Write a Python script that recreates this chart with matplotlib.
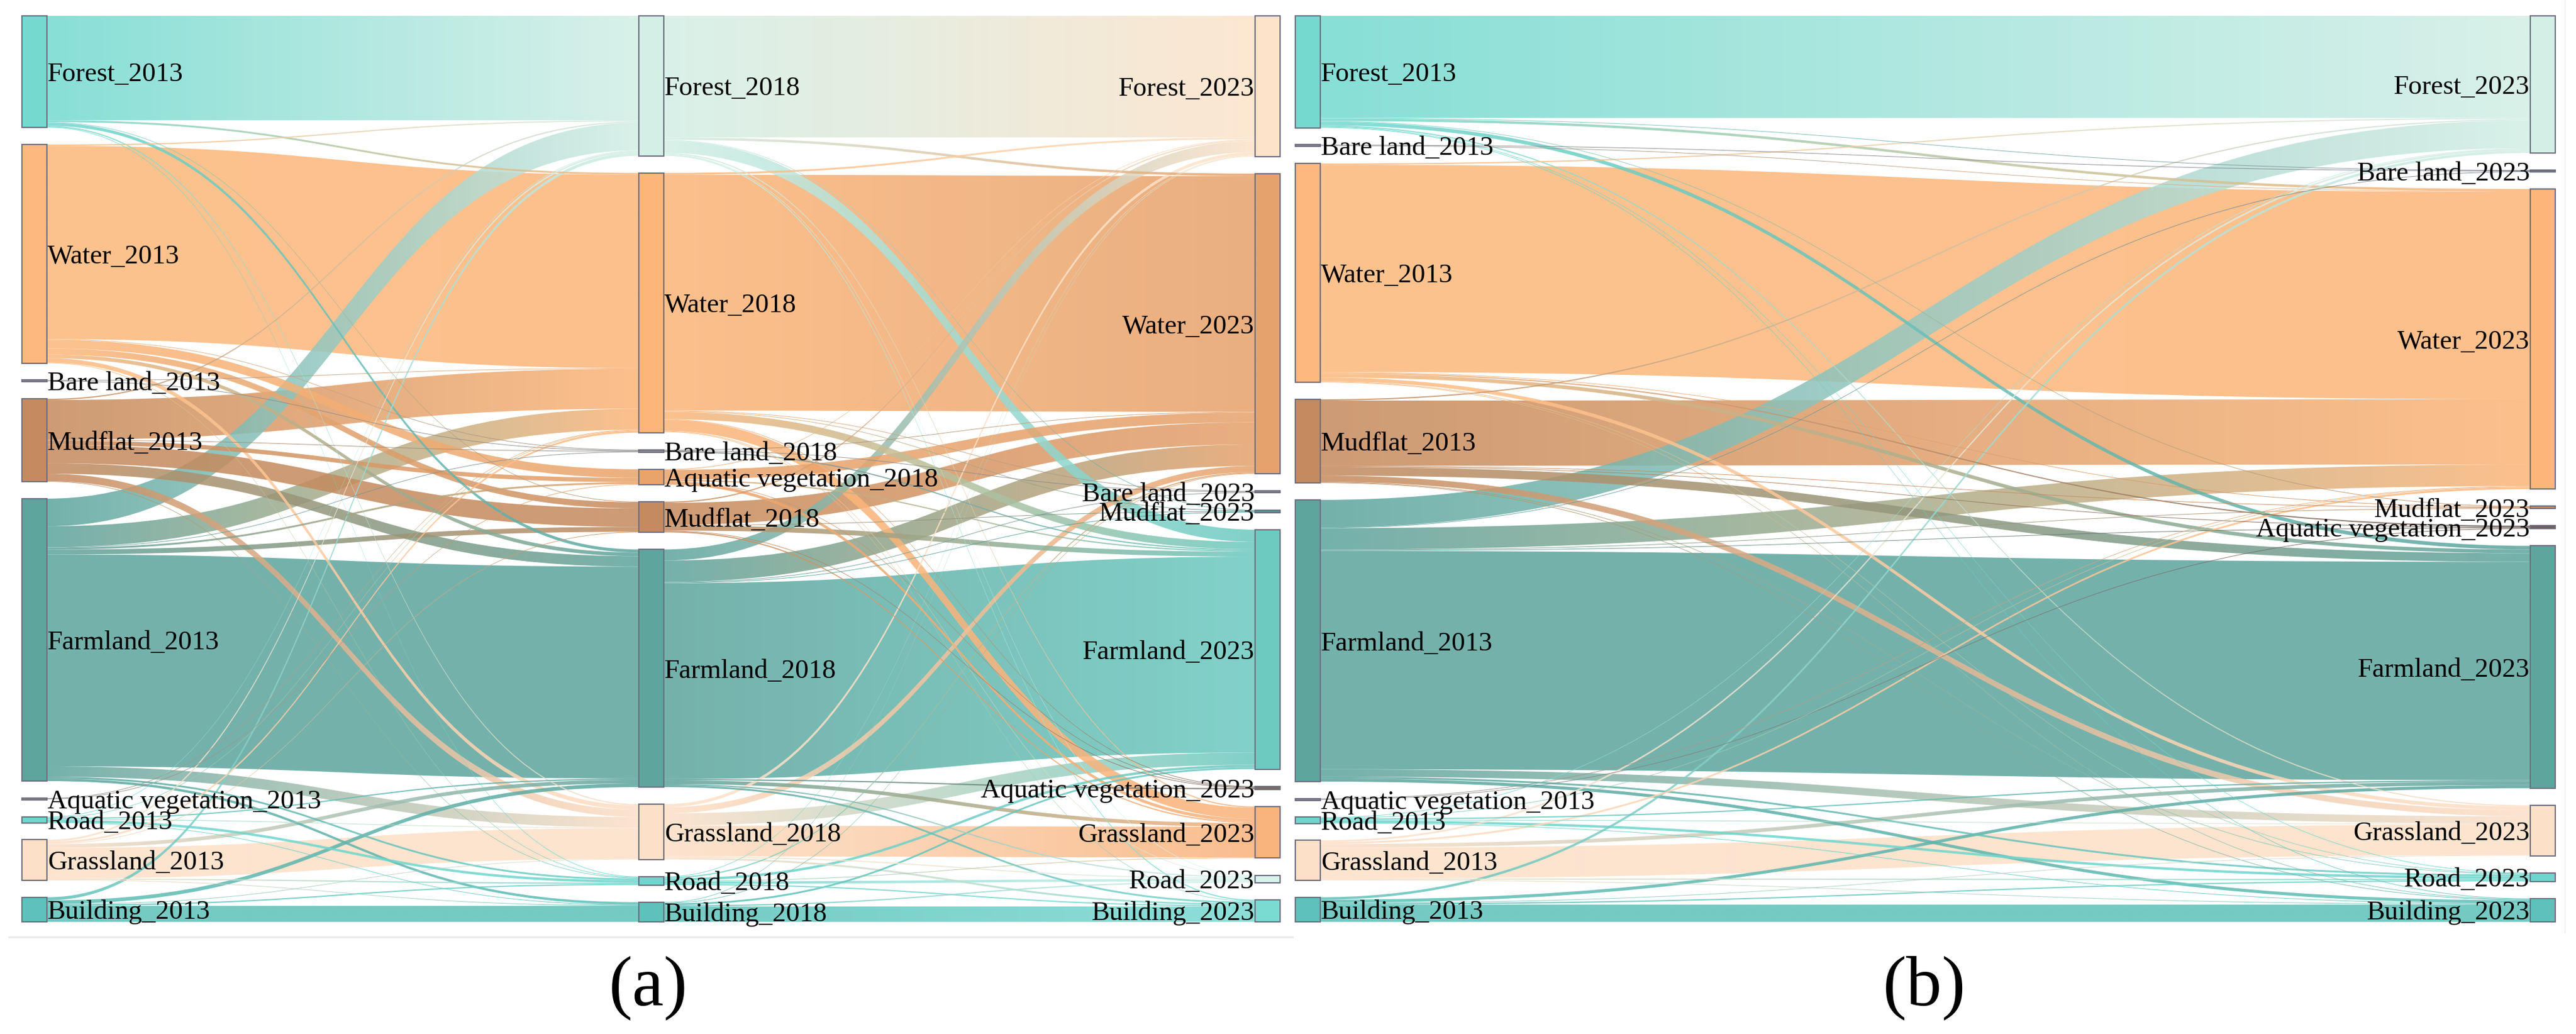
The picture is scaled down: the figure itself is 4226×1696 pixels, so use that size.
import matplotlib
matplotlib.use('Agg')
import matplotlib.pyplot as plt
import numpy as np
from matplotlib.path import Path
from matplotlib.patches import PathPatch, Rectangle
from matplotlib.colors import to_rgb

plt.rcParams['font.family'] = ['Liberation Serif', 'DejaVu Serif']

W_PX, H_PX = 4226, 1696

# land-use classes (row / column order of every flow matrix)
classes = ['Forest', 'Water', 'Bare land', 'Mudflat', 'Farmland',
           'Aquatic vegetation', 'Road', 'Grassland', 'Building']

# node order (top -> bottom) of each column
order_2013_a = ['Forest', 'Water', 'Bare land', 'Mudflat', 'Farmland',
                'Aquatic vegetation', 'Road', 'Grassland', 'Building']
order_2018 = ['Forest', 'Water', 'Bare land', 'Aquatic vegetation', 'Mudflat',
              'Farmland', 'Grassland', 'Road', 'Building']
order_2023_a = ['Forest', 'Water', 'Bare land', 'Mudflat', 'Farmland',
                'Aquatic vegetation', 'Grassland', 'Road', 'Building']
order_2013_b = ['Forest', 'Bare land', 'Water', 'Mudflat', 'Farmland',
                'Aquatic vegetation', 'Road', 'Grassland', 'Building']
order_2023_b = ['Forest', 'Bare land', 'Water', 'Mudflat', 'Aquatic vegetation',
                'Farmland', 'Grassland', 'Road', 'Building']

# transfer areas (rows: from, cols: to), order as in `classes`
flows_2013_2018 = [
    [170, 3, 0, 1, 5, 0, 1, 2, 0],
    [2, 315, 1, 10, 6, 14, 1, 7, 0],
    [0, 1, 1, 0, 0, 0, 0, 0, 0],
    [2, 65, 1, 30, 17, 7, 1, 12, 0],
    [45, 34, 1, 8, 345, 3, 3, 17, 4],
    [0, 1, 0, 0, 0, 1, 0, 0, 0],
    [1, 1, 0, 0, 2, 0, 4, 1, 1],
    [3, 3, 0, 1, 6, 0, 2, 50, 1],
    [5, 0, 0, 0, 6, 0, 2, 1, 26],
]
flows_2018_2023 = [
    [198, 4, 0, 1, 20, 0, 1, 2, 2],
    [3, 384, 1, 1, 12, 1, 1, 18, 1],
    [0, 1, 1, 0, 2, 0, 0, 0, 0],
    [2, 36, 0, 1, 8, 1, 0, 2, 0],
    [18, 35, 1, 1, 319, 2, 2, 6, 3],
    [1, 16, 0, 0, 2, 1, 0, 5, 0],
    [1, 2, 0, 0, 4, 0, 4, 1, 2],
    [5, 10, 0, 0, 20, 0, 2, 50, 3],
    [1, 1, 0, 0, 3, 0, 2, 0, 25],
]
flows_2013_2023 = [
    [166, 4, 1, 1, 6, 0, 1, 2, 1],
    [2, 337, 0, 1, 6, 2, 1, 6, 1],
    [0, 1, 1, 0, 0, 0, 0, 0, 0],
    [2, 106, 0, 1, 14, 1, 1, 10, 1],
    [45, 35, 1, 1, 355, 1, 3, 12, 5],
    [0, 1, 0, 0, 0, 1, 0, 0, 0],
    [1, 1, 0, 0, 2, 0, 4, 1, 1],
    [3, 3, 0, 0, 6, 0, 2, 50, 1],
    [4, 0, 0, 0, 5, 0, 2, 1, 28],
]

# node colours
colors_2013 = {'Forest': '#74dad0', 'Water': '#fdb97d', 'Bare land': '#8a8a8a',
               'Mudflat': '#c58b5e', 'Farmland': '#5ea59e', 'Aquatic vegetation': '#8a8a8a',
               'Road': '#6fd6cd', 'Grassland': '#fde0c8', 'Building': '#5ec2ba'}
colors_2018 = {'Forest': '#d3efe6', 'Water': '#fcb67a', 'Bare land': '#8a8a8a',
               'Aquatic vegetation': '#e9a46c', 'Mudflat': '#c58b5e', 'Farmland': '#5ea59e',
               'Grassland': '#fde0c8', 'Road': '#6fd6cd', 'Building': '#5ec2ba'}
colors_2023_a = {'Forest': '#fde3ca', 'Water': '#e6a26c', 'Bare land': '#8a8a8a',
                 'Mudflat': '#4e9a94', 'Farmland': '#6dcac1', 'Aquatic vegetation': '#7a6a60',
                 'Grassland': '#f9b37c', 'Road': '#d8f3ec', 'Building': '#7adbd3'}
colors_2023_b = {'Forest': '#d3efe6', 'Bare land': '#7a8090', 'Water': '#fcb67a',
                 'Mudflat': '#c58b5e', 'Aquatic vegetation': '#6e5e58', 'Farmland': '#5ea59e',
                 'Grassland': '#fde0c8', 'Road': '#6fd6cd', 'Building': '#5ec2ba'}

TOP, BOTTOM = 26, 1512
NODE_W = 41
LINK_ALPHA = 0.86


def draw_sankey(ax, columns, flows):
    ncol = len(columns)
    idx = {c: i for i, c in enumerate(classes)}
    # node values = max(in, out)
    vals = []
    for c in range(ncol):
        v = {}
        for name in classes:
            i = idx[name]
            vin = sum(flows[c - 1][k][i] for k in range(len(classes))) if c > 0 else 0
            vout = sum(flows[c][i]) if c < ncol - 1 else 0
            v[name] = max(vin, vout)
        vals.append(v)

    span = BOTTOM - TOP
    ky = min((span - 8 * 28) / sum(v.values()) for v in vals)

    # vertical layout
    pos = []
    for c, col in enumerate(columns):
        hs = [max(ky * vals[c][n], 3) for n in col['order']]
        gap = (span - sum(hs)) / (len(hs) - 1)
        y = TOP
        p = {}
        for n, h in zip(col['order'], hs):
            p[n] = [y, h]
            y += h + gap
        pos.append(p)

    # links
    links = []
    for c in range(ncol - 1):
        for s in classes:
            for t in classes:
                v = flows[c][idx[s]][idx[t]]
                if v > 0:
                    links.append({'c': c, 's': s, 't': t, 'h': ky * v, 'v': v})
    for c in range(ncol - 1):
        for s in classes:
            out = [l for l in links if l['c'] == c and l['s'] == s]
            out.sort(key=lambda l: pos[c + 1][l['t']][0])
            y = pos[c][s][0]
            for l in out:
                l['sy'] = y
                y += l['h']
        for t in classes:
            inc = [l for l in links if l['c'] == c and l['t'] == t]
            inc.sort(key=lambda l: pos[c][l['s']][0])
            y = pos[c + 1][t][0]
            for l in inc:
                l['ty'] = y
                y += l['h']

    for l in sorted(links, key=lambda l: -l['v']):
        c = l['c']
        x0 = columns[c]['x'] + NODE_W
        x1 = columns[c + 1]['x']
        xm = (x0 + x1) / 2
        sy, ty, h = l['sy'], l['ty'], l['h']
        verts = [(x0, sy), (xm, sy), (xm, ty), (x1, ty), (x1, ty + h),
                 (xm, ty + h), (xm, sy + h), (x0, sy + h), (x0, sy)]
        codes = [Path.MOVETO, Path.CURVE4, Path.CURVE4, Path.CURVE4, Path.LINETO,
                 Path.CURVE4, Path.CURVE4, Path.CURVE4, Path.CLOSEPOLY]
        patch = PathPatch(Path(verts, codes), facecolor='none', edgecolor='none',
                          transform=ax.transData)
        ax.add_patch(patch)
        c0 = np.array(to_rgb(columns[c]['colors'][l['s']]))
        c1 = np.array(to_rgb(columns[c + 1]['colors'][l['t']]))
        tt = np.linspace(0, 1, 128)[:, None]
        grad = np.ones((1, 128, 4))
        grad[0, :, :3] = c0 * (1 - tt) + c1 * tt
        grad[0, :, 3] = LINK_ALPHA
        ylo, yhi = min(sy, ty) - 2, max(sy, ty) + h + 2
        im = ax.imshow(grad, extent=(x0, x1, yhi, ylo), aspect='auto',
                       interpolation='bilinear', zorder=1)
        im.set_clip_path(patch)

    # nodes and labels
    fs = 32
    for c, col in enumerate(columns):
        for n in col['order']:
            y, h = pos[c][n]
            ax.add_patch(Rectangle((col['x'], y), NODE_W, h, facecolor=col['colors'][n],
                                   edgecolor='#6e6e80', linewidth=1.5, zorder=3))
            yb = y + h / 2 + 0.35 * fs * 100 / 72
            if col['side'] == 'right':
                ax.text(col['x'] + NODE_W + 1, yb, f"{n}_{col['year']}", ha='left',
                        va='baseline', fontsize=fs, color='black', zorder=4)
            else:
                ax.text(col['x'] - 1, yb, f"{n}_{col['year']}", ha='right',
                        va='baseline', fontsize=fs, color='black', zorder=4)


fig = plt.figure(figsize=(W_PX / 100, H_PX / 100), dpi=100)
ax = fig.add_axes([0, 0, 1, 1])

panel_a = [
    {'x': 36, 'year': 2013, 'order': order_2013_a, 'colors': colors_2013, 'side': 'right'},
    {'x': 1048, 'year': 2018, 'order': order_2018, 'colors': colors_2018, 'side': 'right'},
    {'x': 2059, 'year': 2023, 'order': order_2023_a, 'colors': colors_2023_a, 'side': 'left'},
]
panel_b = [
    {'x': 2125, 'year': 2013, 'order': order_2013_b, 'colors': colors_2013, 'side': 'right'},
    {'x': 4151, 'year': 2023, 'order': order_2023_b, 'colors': colors_2023_b, 'side': 'left'},
]
draw_sankey(ax, panel_a, [flows_2013_2018, flows_2018_2023])
draw_sankey(ax, panel_b, [flows_2013_2023])

# faint frame remnants
ax.plot([15, 2120], [1537, 1537], color='#ebebeb', lw=2.5, zorder=0)
ax.plot([4208, 4208], [0, 1530], color='#f0f0f0', lw=1.5, zorder=0)

ax.text(1064, 1620, '(a)', ha='center', va='center', fontsize=84)
ax.text(3157, 1620, '(b)', ha='center', va='center', fontsize=84)

ax.set_xlim(0, W_PX)
ax.set_ylim(H_PX, 0)
ax.set_aspect('auto')
ax.axis('off')

fig.savefig('out.png', dpi=100)
